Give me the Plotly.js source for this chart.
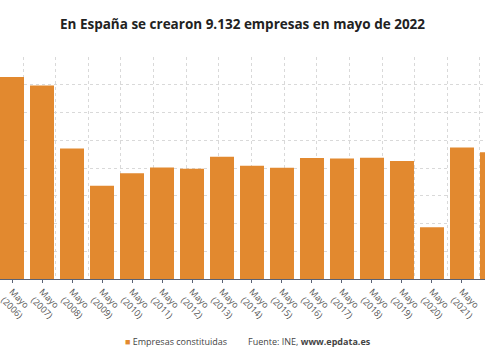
<!DOCTYPE html>
<html>
<head>
<meta charset="utf-8">
<script src="https://cdn.plot.ly/plotly-3.0.1.min.js"></script>
<style>html,body{margin:0;padding:0;background:#fff;}#chart{width:485px;height:360px;}</style>
</head>
<body>
<div id="chart"></div>
<script>
const years = ["2006","2007","2008","2009","2010","2011","2012","2013","2014","2015","2016","2017","2018","2019","2020","2021","2022"];
const categories = years.map(y => "Mayo<br>(" + y + ")");
const empresas = [14560, 13940, 9410, 6715, 7630, 8040, 7950, 8810, 8160, 8010, 8715, 8690, 8740, 8500, 3730, 9480, 9132];
const seriesName = "Empresas constituidas";
const barColor = "#E2892F";

const traces = [
  {
    type: "bar",
    name: seriesName,
    x: categories,
    y: empresas,
    marker: {color: barColor},
    showlegend: false,
    hoverinfo: "none"
  },
  {
    type: "scatter",
    x: [0, 485],
    y: [null, null],
    xaxis: "x2",
    yaxis: "y",
    showlegend: false,
    hoverinfo: "none"
  }
];

const layout = {
  width: 485,
  height: 360,
  margin: {l: 0, r: 0, t: 57.4, b: 81},
  paper_bgcolor: "#fff",
  plot_bgcolor: "#fff",
  font: {family: "Open Sans, sans-serif", color: "#444", size: 9},
  showlegend: false,
  title: {
    text: "<b>En España se crearon 9.132 empresas en mayo de 2022</b>",
    font: {family: "Open Sans, sans-serif", size: 13.5, color: "#222"},
    x: 0.5, xanchor: "center",
    y: 1 - 24/360, yanchor: "middle"
  },
  bargap: 0.2,
  xaxis: {
    type: "category",
    range: [-0.4, 15.767],
    showgrid: false,
    showline: true,
    linecolor: "#5a6275",
    linewidth: 1,
    ticks: "outside",
    ticklen: 3,
    tickcolor: "#5a6275",
    tickangle: 45,
    tickfont: {size: 9, color: "#555"},
    fixedrange: true
  },
  xaxis2: {
    overlaying: "x",
    range: [0, 485],
    tick0: 23,
    dtick: 32.64,
    showgrid: true,
    gridcolor: "#d9d9d9",
    griddash: "dot",
    showticklabels: false,
    zeroline: false,
    showline: false
  },
  yaxis: {
    range: [0, 16000],
    dtick: 2000,
    showgrid: true,
    gridcolor: "#d9d9d9",
    griddash: "dot",
    showticklabels: false,
    zeroline: false,
    fixedrange: true
  },
  annotations: [
    {
      xref: "paper", yref: "paper",
      x: 123/485, xanchor: "left",
      y: (279 - 341)/221.6, yanchor: "middle",
      text: "<span style='color:" + barColor + "'>■</span> " + seriesName,
      showarrow: false,
      font: {size: 9, color: "#444"}
    },
    {
      xref: "paper", yref: "paper",
      x: 246/485, xanchor: "left",
      y: (279 - 341)/221.6, yanchor: "middle",
      text: "Fuente: INE, <b>www.epdata.es</b>",
      showarrow: false,
      font: {size: 9, color: "#444"}
    }
  ]
};

Plotly.newPlot("chart", traces, layout, {displayModeBar: false, staticPlot: true});
</script>
</body>
</html>
